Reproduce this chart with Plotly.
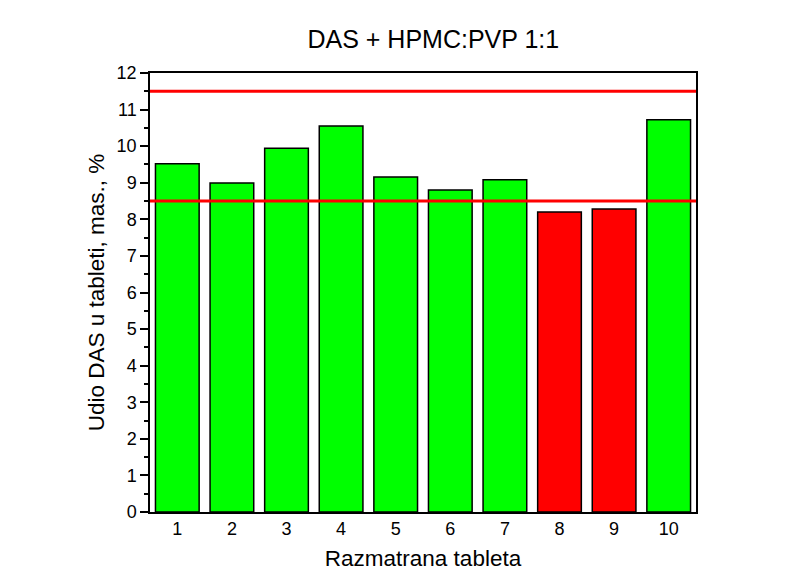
import plotly.graph_objects as go

tablets = [1, 2, 3, 4, 5, 6, 7, 8, 9, 10]
values = [9.52, 8.99, 9.94, 10.55, 9.16, 8.80, 9.08, 8.20, 8.28, 10.72]
lower_limit = 8.5
upper_limit = 11.5
bar_colors = ["#00ff00" if lower_limit <= v <= upper_limit else "#ff0000" for v in values]

fig = go.Figure()
fig.add_trace(go.Bar(
    x=tablets, y=values, width=0.8,
    marker=dict(color=bar_colors, line=dict(color="black", width=1.5)),
    showlegend=False,
))
for lim in [upper_limit, lower_limit]:
    fig.add_trace(go.Scatter(
        x=[0.5, 10.52], y=[lim, lim], mode="lines",
        line=dict(color="#ff0000", width=3), showlegend=False, cliponaxis=False,
    ))

font = "Liberation Sans, Arial, sans-serif"
fig.update_layout(
    width=795, height=576,
    paper_bgcolor="white", plot_bgcolor="white",
    margin=dict(l=142, r=107, t=65, b=72),
    font=dict(family=font, color="black", size=18),
    title=dict(text="DAS + HPMC:PVP 1:1", x=0.535, xanchor="center", y=0.946, yanchor="middle",
               font=dict(size=25, family=font)),
    bargap=0.2,
)
fig.update_xaxes(
    range=[0.5, 10.5], tickmode="array", tickvals=tablets, ticktext=[str(t) for t in tablets],
    ticks="", showline=True, linecolor="black", linewidth=1.5, mirror=True,
    showgrid=False, zeroline=False,
    title=dict(text="Razmatrana tableta", font=dict(size=22.5), standoff=12),
)
fig.update_yaxes(
    range=[0, 12], dtick=1, tick0=0, ticks="outside", ticklen=8, tickwidth=1.5, tickcolor="black",
    minor=dict(dtick=0.5, ticks="outside", ticklen=4, tickwidth=1.5, tickcolor="black", showgrid=False),
    showline=True, linecolor="black", linewidth=1.5, mirror=True,
    showgrid=False, zeroline=False,
    title=dict(text="Udio DAS u tableti, mas., %", font=dict(size=22.5), standoff=6),
)
fig.write_html("out.html")
